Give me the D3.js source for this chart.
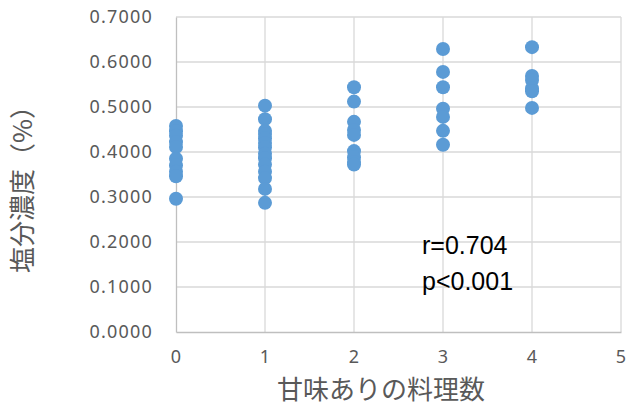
<!DOCTYPE html>
<html>
<head>
<meta charset="utf-8">
<script src="https://cdn.jsdelivr.net/npm/d3@7"></script>
<style>
  body { margin: 0; background: #fff; }
  text { font-family: "Noto Sans", "Noto Sans CJK JP", sans-serif; }
  .tick text { letter-spacing: 1.2px; }
  .title { font-family: "Noto Sans CJK JP", sans-serif; }
  .stat { font-family: "Liberation Sans", Arial, sans-serif; }
</style>
</head>
<body>
<div id="chart"></div>
<script>
// values
var xCounts = [0, 1, 2, 3, 4];
var salt0 = [0.458, 0.446, 0.436, 0.422, 0.411, 0.385, 0.370, 0.356, 0.346, 0.296];
var salt1 = [0.503, 0.473, 0.447, 0.440, 0.430, 0.420, 0.410, 0.396, 0.386, 0.372, 0.356, 0.342, 0.318, 0.287];
var salt2 = [0.544, 0.512, 0.467, 0.449, 0.438, 0.402, 0.388, 0.378, 0.372];
var salt3 = [0.629, 0.578, 0.544, 0.496, 0.478, 0.447, 0.416];
var salt4 = [0.633, 0.569, 0.560, 0.541, 0.535, 0.498];
var yTicks = [0, 0.1, 0.2, 0.3, 0.4, 0.5, 0.6, 0.7];
var xTicks = [0, 1, 2, 3, 4, 5];
var statLines = ["r=0.704", "p<0.001"];

var allSalt = [salt0, salt1, salt2, salt3, salt4];
var points = [];
allSalt.forEach(function(arr, i) {
    arr.forEach(function(v) { points.push({ x: xCounts[i], y: v }); });
});

var W = 628, H = 409;
var margin = { top: 17, right: 7, bottom: 77, left: 176 };
var width = W - margin.left - margin.right;
var height = H - margin.top - margin.bottom;

var svg = d3.select("#chart").append("svg")
    .attr("width", W)
    .attr("height", H)
  .append("g")
    .attr("transform", "translate(" + margin.left + "," + margin.top + ")");

var x = d3.scaleLinear().domain([0, 5]).range([0, width]);
var y = d3.scaleLinear().domain([0, 0.7]).range([height, 0]);

// gridlines
svg.append("g").selectAll("line.hg")
    .data(yTicks.slice(1))
    .enter().append("line")
    .attr("x1", 0).attr("x2", width)
    .attr("y1", function(d) { return y(d); })
    .attr("y2", function(d) { return y(d); })
    .attr("stroke", "#d9d9d9").attr("stroke-width", 1.3);

svg.append("g").selectAll("line.vg")
    .data(xTicks.slice(1))
    .enter().append("line")
    .attr("y1", 0).attr("y2", height)
    .attr("x1", function(d) { return x(d); })
    .attr("x2", function(d) { return x(d); })
    .attr("stroke", "#d9d9d9").attr("stroke-width", 1.3);

// axes
var yAxis = d3.axisLeft(y).tickValues(yTicks).tickSize(0).tickPadding(23)
    .tickFormat(d3.format(".4f"));
var xAxis = d3.axisBottom(x).tickValues(xTicks).tickSize(0).tickPadding(18)
    .tickFormat(d3.format("d"));

var gy = svg.append("g").call(yAxis);
var gx = svg.append("g").attr("transform", "translate(0," + height + ")").call(xAxis);
[gy, gx].forEach(function(g) {
    g.select(".domain").attr("stroke", "#bfbfbf").attr("stroke-width", 1.3);
    g.selectAll("text").attr("fill", "#595959").style("font-size", "18px");
});

// points
svg.selectAll("circle.pt")
    .data(points)
    .enter().append("circle")
    .attr("class", "pt")
    .attr("cx", function(d) { return x(d.x); })
    .attr("cy", function(d) { return y(d.y); })
    .attr("r", 7)
    .attr("fill", "#5b9bd5");

// r and p text
svg.selectAll("text.stat")
    .data(statLines)
    .enter().append("text")
    .attr("class", "stat")
    .attr("x", 246)
    .attr("y", function(d, i) { return 237 + i * 36; })
    .attr("fill", "#000")
    .style("font-size", "25px")
    .text(function(d) { return d; });

// axis titles
svg.append("text")
    .attr("class", "title")
    .attr("x", 205)
    .attr("y", height + 60)
    .attr("text-anchor", "middle")
    .attr("dominant-baseline", "middle")
    .attr("fill", "#595959")
    .style("font-size", "26px")
    .text("甘味ありの料理数");

svg.append("text")
    .attr("class", "title")
    .attr("transform", "translate(" + (-151) + "," + 166 + ") rotate(-90)")
    .attr("text-anchor", "middle")
    .attr("dominant-baseline", "middle")
    .attr("fill", "#595959")
    .style("font-size", "26px")
    .text("塩分濃度（%）");
</script>
</body>
</html>
